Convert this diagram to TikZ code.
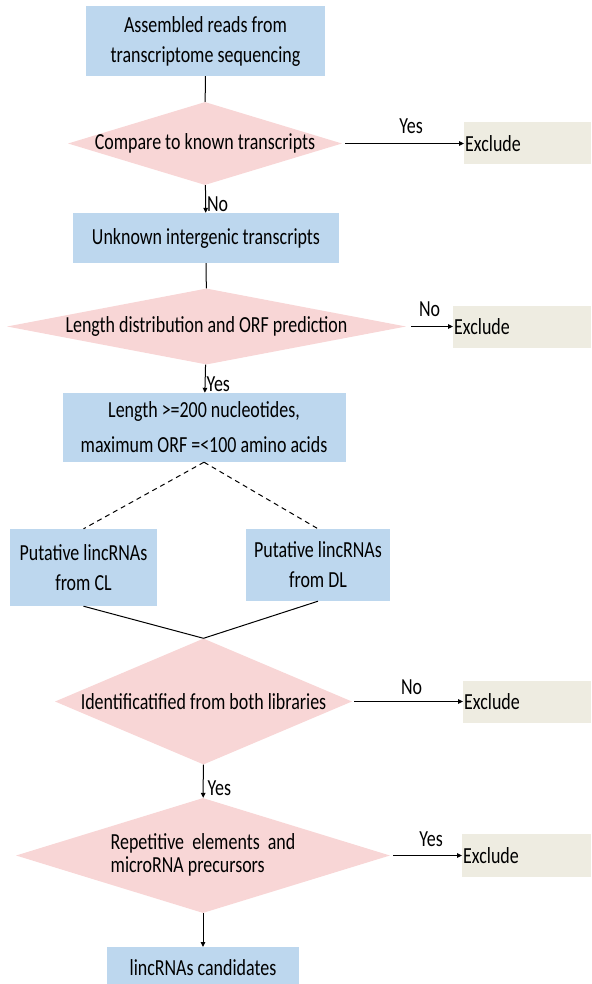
\documentclass[tikz,border=0pt]{standalone}
\usepackage{fontspec}
\setmainfont{Carlito}[FakeStretch=0.78]
\usepackage{tikz}
\usetikzlibrary{arrows.meta, shapes.geometric, positioning, calc}

\definecolor{boxblue}{RGB}{189,215,238}
\definecolor{diapink}{RGB}{248,214,214}
\definecolor{exclbeige}{RGB}{238,236,225}

% text of a diamond, kept out of its size
\newcommand{\dtext}[1]{\makebox[0pt]{#1}}

\tikzset{
  stepbox/.style={rectangle, fill=boxblue, inner sep=2pt, align=center},
  decide/.style={diamond, fill=diapink, inner sep=0pt},
  exclbox/.style={rectangle, fill=exclbeige, anchor=west, minimum height=42pt, inner xsep=1pt, align=left},
  flow/.style={line width=1pt, -{Triangle[length=5pt, width=4.5pt]}},
  link/.style={line width=1pt},
}

\begin{document}
\begin{tikzpicture}[x=1pt, y=-1pt, font=\fontsize{23}{28}\selectfont]
    \useasboundingbox (0,0) rectangle (591,984);

    % Main column of steps
    \node[stepbox, minimum width=239pt, minimum height=70pt] (reads) at (205.5,41) {Assembled reads from\\[2pt]transcriptome sequencing};
    \node[decide, minimum width=274pt, minimum height=83pt] (known) at (205,143.5) {\dtext{Compare to known transcripts}};
    \node[stepbox, minimum width=266pt, minimum height=50pt] (unknown) at (206,238) {Unknown intergenic transcripts};
    \node[decide, minimum width=399pt, minimum height=76pt] (orf) at (206.5,326.5) {\dtext{Length distribution and ORF prediction}};
    \node[stepbox, minimum width=283pt, minimum height=69pt] (length) at (204,427.5) {Length >=200 nucleotides,\\[7pt]maximum ORF =<100 amino acids};

    % Two libraries
    \node[stepbox, minimum width=147pt, minimum height=77pt] (cl) at (83.5,567.5) {Putative lincRNAs\\[2pt]from CL};
    \node[stepbox, minimum width=144pt, minimum height=72pt] (dl) at (318,565) {Putative lincRNAs\\[2pt]from DL};

    \node[decide, minimum width=297pt, minimum height=126pt] (both) at (203.5,701.5) {\dtext{Identificatified from both libraries}};
    \node[decide, minimum width=374pt, minimum height=115pt] (repeat) at (203,855.5) {\dtext{\begin{tabular}{@{}l@{}}Repetitive\ \ elements\ \ and\\[-5pt]microRNA precursors\end{tabular}}};
    \node[stepbox, minimum width=192pt, anchor=north, inner ysep=0pt, text height=28pt, text depth=9pt] (cands) at (203,947) {lincRNAs candidates};

    % Excluded sets
    \node[exclbox, text width=125pt] (ex1) at (464,143.5) {Exclude};
    \node[exclbox, text width=136pt] (ex2) at (453,326.5) {Exclude};
    \node[exclbox, text width=126pt] (ex3) at (463,701.5) {Exclude};
    \node[exclbox, text width=127pt, minimum height=43pt] (ex4) at (462,855.5) {Exclude};

    % Connectors
    \draw[link] (reads) -- (known);
    \draw[flow] (known) -- (unknown) node[right, pos=0.68, inner xsep=1pt] {No};
    \draw[flow, shorten <=3pt] (known.east) -- (ex1.west) node[midway, above=6pt, xshift=8pt] {Yes};
    \draw[link] (unknown) -- (orf);
    \draw[flow, shorten <=5pt] (orf.east) -- (ex2.west) node[midway, above=6pt] {No};
    \draw[flow] (orf) -- (length) node[right, pos=0.7, inner xsep=1pt] {Yes};
    \draw[link, dash pattern=on 5pt off 4pt] (length.south) -- (cl.north);
    \draw[link, dash pattern=on 5pt off 4pt] (length.south) -- (dl.north);
    \draw[link] (cl.south) -- (both.north);
    \draw[link] (dl.south) -- (both.north);
    \draw[flow, shorten <=2pt] (both.east) -- (ex3.west) node[midway, above=3pt, xshift=4pt] {No};
    \draw[flow] (both) -- (repeat) node[right, pos=0.7, inner xsep=4pt] {Yes};
    \draw[flow, shorten <=3pt] (repeat.east) -- (ex4.west) node[midway, above=5pt, xshift=5pt] {Yes};
    \draw[flow] (repeat) -- (cands);
\end{tikzpicture}
\end{document}
